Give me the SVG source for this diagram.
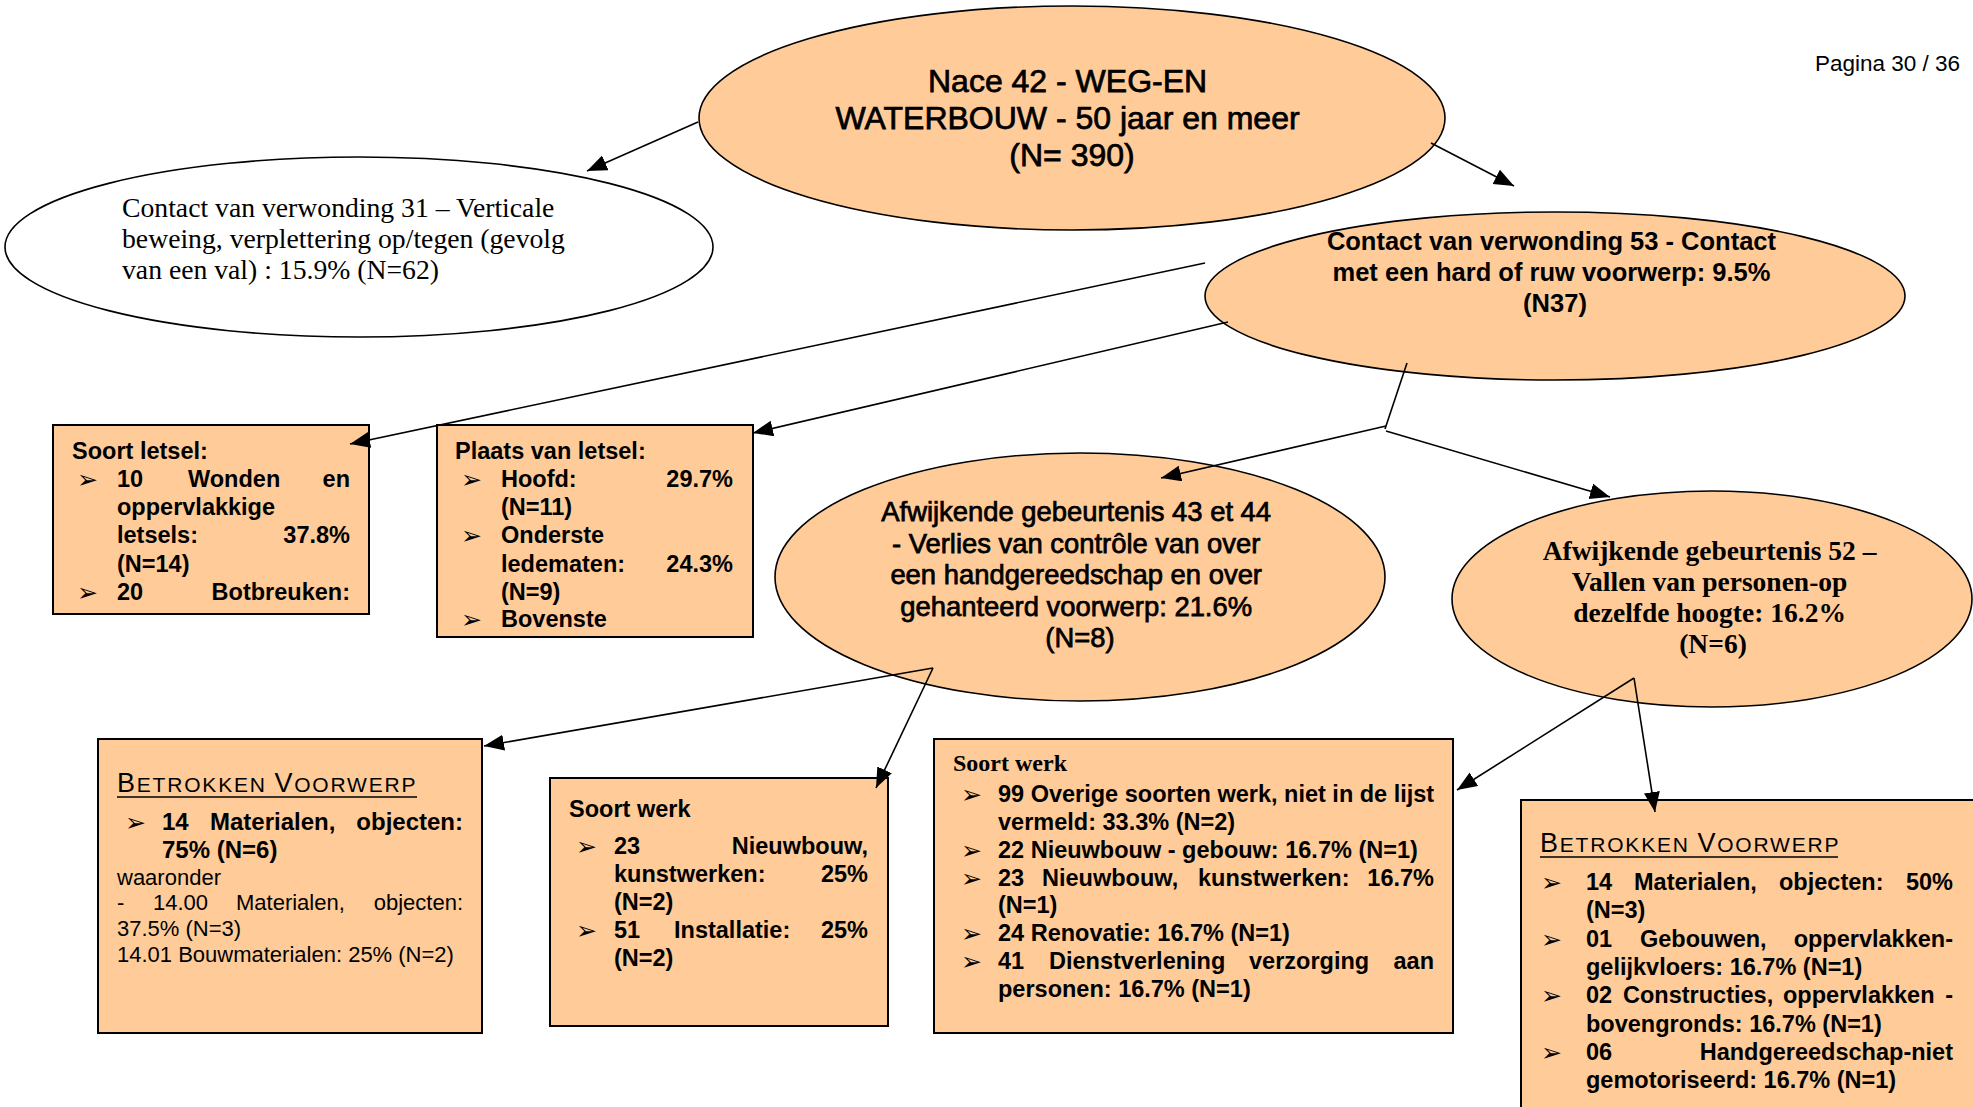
<svg xmlns="http://www.w3.org/2000/svg" width="1973" height="1107" viewBox="0 0 1973 1107">
  <defs>
    <marker id="ah" markerUnits="userSpaceOnUse" markerWidth="22" markerHeight="18" refX="20" refY="8" orient="auto">
      <path d="M0,0 L20,8 L0,16 z" fill="#000"/>
    </marker>
    <style>
      .pe { fill: #FFCC99; stroke: #000; stroke-width: 1.6; }
      .wh { fill: #FFFFFF; stroke: #000; stroke-width: 1.6; }
      .bx { fill: #FFCC99; stroke: #000; stroke-width: 2; }
      .cn { fill: none; stroke: #000; stroke-width: 1.6; }
      .arr { marker-end: url(#ah); }
      .sans { font-family: "Liberation Sans", Arial, sans-serif; fill: #000; }
      .serif { font-family: "Liberation Serif", "Times New Roman", serif; fill: #000; }
      .b { font-weight: bold; }
      .heavy { stroke: #000; stroke-width: 0.75px; }
      .f23 { font-size: 23.5px; }
      .f22 { font-size: 22px; }
      .mid { text-anchor: middle; }
      .end { text-anchor: end; }
      .bul { font-family: "DejaVu Sans", sans-serif; font-size: 25px; fill: #000; }
      .sc1 { font-size: 27px; }
      .sc2 { font-size: 21px; }
    </style>
  </defs>

  <!-- page number -->
  <text class="sans end" x="1960" y="70.5" font-size="22.5">Pagina 30 / 36</text>

  <!-- root -->
  <g id="root">
    <ellipse class="pe" cx="1072" cy="118" rx="373" ry="112"/>
    <text class="sans heavy mid" font-size="32" x="1072">
      <tspan x="1072" y="92">Nace 42 - WEG-EN</tspan>
      <tspan x="1072" y="129">WATERBOUW - 50 jaar en meer</tspan>
      <tspan x="1072" y="166">(N= 390)</tspan>
    </text>
  </g>

  <!-- contact 31 -->
  <g id="contact31">
    <ellipse class="wh" cx="359" cy="247" rx="354" ry="90"/>
    <text class="serif" font-size="27.7">
      <tspan x="122" y="217">Contact van verwonding 31 – Verticale</tspan>
      <tspan x="122" y="248">beweing, verplettering op/tegen (gevolg</tspan>
      <tspan x="122" y="279">van een val) : 15.9% (N=62)</tspan>
    </text>
  </g>

  <!-- contact 53 -->
  <g id="contact53">
    <ellipse class="pe" cx="1555" cy="296" rx="350" ry="84"/>
    <text class="sans b mid" font-size="25.5">
      <tspan x="1555" y="250">Contact van verwonding 53 - Contact</tspan>
      <tspan x="1555" y="281">met een hard of ruw voorwerp: 9.5%</tspan>
      <tspan x="1555" y="312">(N37)</tspan>
    </text>
  </g>

  <!-- soort letsel -->
  <g id="soort-letsel">
    <rect class="bx" x="53" y="425" width="316" height="189"/>
    <g class="sans b f23">
      <text x="72" y="459">Soort letsel:</text>
      <text x="117" y="487">10</text>
      <text x="188" y="487">Wonden</text>
      <text class="end" x="350" y="487">en</text>
      <text x="117" y="515">oppervlakkige</text>
      <text x="117" y="543">letsels:</text>
      <text class="end" x="350" y="543">37.8%</text>
      <text x="117" y="572">(N=14)</text>
      <text x="117" y="600">20</text>
      <text class="end" x="350" y="600">Botbreuken:</text>
    </g>
    <text class="bul" x="77" y="488">➢</text>
    <text class="bul" x="77" y="601">➢</text>
  </g>

  <!-- plaats van letsel -->
  <g id="plaats-letsel">
    <rect class="bx" x="437" y="425" width="316" height="212"/>
    <g class="sans b f23">
      <text x="455" y="459">Plaats van letsel:</text>
      <text x="501" y="487">Hoofd:</text>
      <text class="end" x="733" y="487">29.7%</text>
      <text x="501" y="515">(N=11)</text>
      <text x="501" y="543">Onderste</text>
      <text x="501" y="572">ledematen:</text>
      <text class="end" x="733" y="572">24.3%</text>
      <text x="501" y="600">(N=9)</text>
      <text x="501" y="627">Bovenste</text>
    </g>
    <text class="bul" x="461" y="488">➢</text>
    <text class="bul" x="461" y="544">➢</text>
    <text class="bul" x="461" y="628">➢</text>
  </g>

  <!-- afwijkende gebeurtenis 43/44 -->
  <g id="afw43">
    <ellipse class="pe" cx="1080" cy="577" rx="305" ry="124"/>
    <text class="sans heavy mid" font-size="27.4">
      <tspan x="1080" y="521">Afwijkende gebeurtenis 43 et 44</tspan>
      <tspan x="1080" y="553">- Verlies van contrôle van over</tspan>
      <tspan x="1080" y="584">een handgereedschap en over</tspan>
      <tspan x="1080" y="616">gehanteerd voorwerp: 21.6%</tspan>
      <tspan x="1080" y="647">(N=8)</tspan>
    </text>
  </g>

  <!-- afwijkende gebeurtenis 52 -->
  <g id="afw52">
    <ellipse class="pe" cx="1712" cy="599" rx="260" ry="108"/>
    <text class="serif b mid" font-size="27.5">
      <tspan x="1713" y="560">Afwijkende gebeurtenis 52 –</tspan>
      <tspan x="1713" y="591">Vallen van personen-op</tspan>
      <tspan x="1713" y="622">dezelfde hoogte: 16.2%</tspan>
      <tspan x="1713" y="653">(N=6)</tspan>
    </text>
  </g>

  <!-- betrokken voorwerp (43/44) -->
  <g id="voorwerp43">
    <rect class="bx" x="98" y="739" width="384" height="294"/>
    <text class="sans" x="117" y="792" letter-spacing="1.8"><tspan class="sc1">B</tspan><tspan class="sc2">ETROKKEN </tspan><tspan class="sc1">V</tspan><tspan class="sc2">OORWERP</tspan></text>
    <line x1="117" y1="797" x2="417" y2="797" stroke="#000" stroke-width="1.6"/>
    <text class="bul" x="125" y="831">➢</text>
    <g class="sans b" font-size="24">
      <text x="162" y="830">14</text>
      <text x="210" y="830">Materialen,</text>
      <text class="end" x="463" y="830">objecten:</text>
      <text x="162" y="858">75% (N=6)</text>
    </g>
    <g class="sans f22">
      <text x="117" y="885">waaronder</text>
      <text x="117" y="910">-</text>
      <text x="153" y="910">14.00</text>
      <text x="236" y="910">Materialen,</text>
      <text class="end" x="463" y="910">objecten:</text>
      <text x="117" y="936">37.5% (N=3)</text>
      <text x="117" y="962">14.01 Bouwmaterialen: 25% (N=2)</text>
    </g>
  </g>

  <!-- soort werk (43/44) -->
  <g id="werk43">
    <rect class="bx" x="550" y="778" width="338" height="248"/>
    <g class="sans b f23">
      <text x="569" y="817">Soort werk</text>
      <text x="614" y="854">23</text>
      <text class="end" x="868" y="854">Nieuwbouw,</text>
      <text x="614" y="882">kunstwerken:</text>
      <text class="end" x="868" y="882">25%</text>
      <text x="614" y="910">(N=2)</text>
      <text x="614" y="938">51</text>
      <text x="674" y="938">Installatie:</text>
      <text class="end" x="868" y="938">25%</text>
      <text x="614" y="966">(N=2)</text>
    </g>
    <text class="bul" x="576" y="855">➢</text>
    <text class="bul" x="576" y="939">➢</text>
  </g>

  <!-- soort werk (52) -->
  <g id="werk52">
    <rect class="bx" x="934" y="739" width="519" height="294"/>
    <text class="serif b" font-size="24" x="953" y="771">Soort werk</text>
    <g class="sans b f23">
      <text x="998" y="802">99 Overige soorten werk, niet in de lijst</text>
      <text x="998" y="830">vermeld: 33.3% (N=2)</text>
      <text x="998" y="858">22 Nieuwbouw - gebouw: 16.7% (N=1)</text>
      <text x="998" y="886">23</text>
      <text x="1042" y="886">Nieuwbouw,</text>
      <text x="1198" y="886">kunstwerken:</text>
      <text class="end" x="1434" y="886">16.7%</text>
      <text x="998" y="913">(N=1)</text>
      <text x="998" y="941">24 Renovatie: 16.7% (N=1)</text>
      <text x="998" y="969">41</text>
      <text x="1049" y="969">Dienstverlening</text>
      <text x="1249" y="969">verzorging</text>
      <text class="end" x="1434" y="969">aan</text>
      <text x="998" y="997">personen: 16.7% (N=1)</text>
    </g>
    <text class="bul" x="961" y="803">➢</text>
    <text class="bul" x="961" y="859">➢</text>
    <text class="bul" x="961" y="887">➢</text>
    <text class="bul" x="961" y="942">➢</text>
    <text class="bul" x="961" y="970">➢</text>
  </g>

  <!-- betrokken voorwerp (52) -->
  <g id="voorwerp52">
    <rect class="bx" x="1521" y="800" width="470" height="330"/>
    <text class="sans" x="1540" y="852" letter-spacing="1.8"><tspan class="sc1">B</tspan><tspan class="sc2">ETROKKEN </tspan><tspan class="sc1">V</tspan><tspan class="sc2">OORWERP</tspan></text>
    <line x1="1540" y1="857" x2="1838" y2="857" stroke="#000" stroke-width="1.6"/>
    <g class="sans b f23">
      <text x="1586" y="890">14</text>
      <text x="1634" y="890">Materialen,</text>
      <text x="1779" y="890">objecten:</text>
      <text class="end" x="1953" y="890">50%</text>
      <text x="1586" y="918">(N=3)</text>
      <text x="1586" y="947">01</text>
      <text x="1640" y="947">Gebouwen,</text>
      <text class="end" x="1953" y="947">oppervlakken-</text>
      <text x="1586" y="975">gelijkvloers: 16.7% (N=1)</text>
      <text x="1586" y="1003">02</text>
      <text x="1623" y="1003">Constructies,</text>
      <text x="1783" y="1003">oppervlakken</text>
      <text class="end" x="1953" y="1003">-</text>
      <text x="1586" y="1032">bovengronds: 16.7% (N=1)</text>
      <text x="1586" y="1060">06</text>
      <text class="end" x="1953" y="1060">Handgereedschap-niet</text>
      <text x="1586" y="1088">gemotoriseerd: 16.7% (N=1)</text>
    </g>
    <text class="bul" x="1541" y="891">➢</text>
    <text class="bul" x="1541" y="948">➢</text>
    <text class="bul" x="1541" y="1004">➢</text>
    <text class="bul" x="1541" y="1061">➢</text>
  </g>

  <!-- connectors, drawn over the nodes -->
  <g id="connectors">
    <line class="cn arr" x1="698" y1="122" x2="587" y2="171"/>
    <line class="cn arr" x1="1431" y1="143" x2="1514" y2="186"/>
    <line class="cn arr" x1="1205" y1="263" x2="350" y2="444"/>
    <line class="cn arr" x1="1228" y1="322" x2="753" y2="433"/>
    <polyline class="cn" points="1407,363 1385,429"/>
    <line class="cn arr" x1="1386" y1="426" x2="1161" y2="478"/>
    <line class="cn arr" x1="1386" y1="431" x2="1610" y2="497"/>
    <line class="cn arr" x1="933" y1="668" x2="484" y2="746"/>
    <line class="cn arr" x1="933" y1="668" x2="876" y2="788"/>
    <line class="cn arr" x1="1634" y1="678" x2="1457" y2="790"/>
    <line class="cn arr" x1="1634" y1="678" x2="1655" y2="812"/>
  </g>
</svg>
